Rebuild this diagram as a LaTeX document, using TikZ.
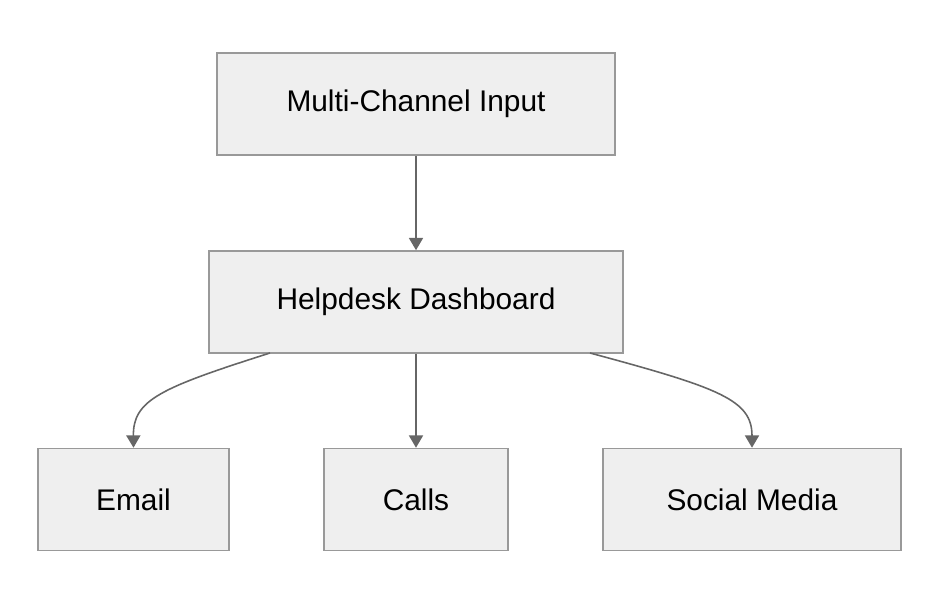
\documentclass[tikz,border=0pt]{standalone}
\usepackage{fontspec}
\setmainfont{Liberation Sans}
\usetikzlibrary{arrows.meta,calc}
\definecolor{boxfill}{HTML}{EFEFEF}
\definecolor{boxline}{HTML}{999999}
\definecolor{arrowc}{HTML}{666666}
\begin{document}
\begin{tikzpicture}[x=0.02cm,y=-0.02cm,
  box/.style={draw=boxline,fill=boxfill,line width=0.9pt,minimum height=2.04cm,
    font=\fontsize{17}{20}\selectfont},
  link/.style={draw=arrowc,line width=0.9pt,-{Triangle[length=7pt,width=8pt]}}]
  \useasboundingbox (0,0) rectangle (940,604);

  \node[box,minimum width=7.96cm] (input) at (416,104) {Multi-Channel Input};
  \node[box,minimum width=8.28cm] (desk) at (416,302) {Helpdesk Dashboard};
  \node[box,minimum width=3.82cm] (email) at (133.5,499.5) {Email};
  \node[box,minimum width=3.68cm] (calls) at (416,499.5) {Calls};
  \node[box,minimum width=5.96cm] (social) at (752,499.5) {Social Media};

  \coordinate (deskl) at (270,353);
  \coordinate (deskr) at (590,353);

  \path[link] (input) -- (desk);
  \path[link] (desk) -- (calls);
  \path[link] (deskl) .. controls (160,388) and (133,400) .. (email.north);
  \path[link] (deskr) .. controls (720,388) and (752,400) .. (social.north);
\end{tikzpicture}
\end{document}
